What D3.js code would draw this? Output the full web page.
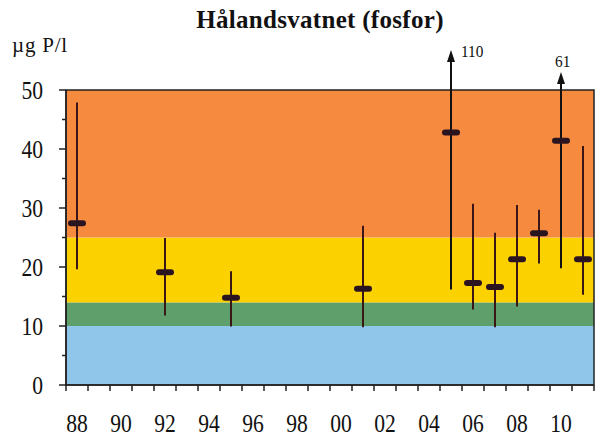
<!DOCTYPE html>
<html>
<head>
<meta charset="utf-8">
<script src="https://cdn.jsdelivr.net/npm/d3@7/dist/d3.min.js"></script>
<style>
  html, body { margin: 0; padding: 0; background: #fff; }
  svg { display: block; }
  text { font-family: "Liberation Serif", "Times New Roman", serif; fill: #111; }
</style>
</head>
<body>
<svg id="chart" width="596" height="437"></svg>
<script>
// Phosphorus (µg P/l) in Hålandsvatnet: mean with min–max range per sampled year
const years = d3.range(1988, 2012);
const sampleYears = [1988, 1992, 1995, 2001, 2005, 2006, 2007, 2008, 2009, 2010, 2011];
const meanValues  = [27.4, 19.1, 14.8, 16.3, 42.8, 17.3, 16.6, 21.3, 25.7, 41.4, 21.3];
const minValues   = [19.6, 11.8, 9.9,  9.8,  16.2, 12.8, 9.8,  13.3, 20.6, 19.8, 15.3];
const maxValues   = [47.9, 24.9, 19.3, 27.0, 110,  30.7, 25.8, 30.5, 29.7, 61,   40.5];

// Condition classes drawn as background bands
const classNames  = ["svært god", "god", "mindre god", "dårlig"];
const classLimits = [[0, 10], [10, 14], [14, 25], [25, 50]];
const classColors = ["#8fc6ea", "#5f9f6c", "#fcd100", "#f68b40"];

const yTicks = [0, 10, 20, 30, 40, 50];
const yMinorTicks = [5, 15, 25, 35, 45];
const xLabelYears = d3.range(1988, 2012, 2);

const svg = d3.select("#chart");
const plotLeft = 66, plotRight = 594, plotTop = 90, plotBottom = 385;
const squeeze = 0.83; // narrow numerals

const x = d3.scaleBand().domain(years).range([plotLeft, plotRight]).padding(0);
const y = d3.scaleLinear().domain([0, 50]).range([plotBottom, plotTop]);

// background classes
svg.append("g").selectAll("rect")
  .data(classLimits)
  .join("rect")
  .attr("x", plotLeft)
  .attr("width", plotRight - plotLeft)
  .attr("y", d => y(d[1]))
  .attr("height", d => y(d[0]) - y(d[1]))
  .attr("fill", (d, i) => classColors[i]);

// frame
svg.append("rect")
  .attr("x", plotLeft).attr("y", plotTop)
  .attr("width", plotRight - plotLeft).attr("height", plotBottom - plotTop)
  .attr("fill", "none").attr("stroke", "#222").attr("stroke-width", 1.5);

// y axis
const yAxis = svg.append("g").attr("transform", `translate(${plotLeft},0)`);
yAxis.append("line").attr("x1", 0).attr("x2", 0).attr("y1", y(50)).attr("y2", y(0))
  .attr("stroke", "#222").attr("stroke-width", 1.5);
yAxis.selectAll(".maj").data(yTicks).join("line")
  .attr("x1", -7).attr("x2", 0).attr("y1", d => y(d)).attr("y2", d => y(d))
  .attr("stroke", "#222").attr("stroke-width", 1.5);
yAxis.selectAll(".min").data(yMinorTicks).join("line")
  .attr("x1", -4).attr("x2", 0).attr("y1", d => y(d)).attr("y2", d => y(d))
  .attr("stroke", "#222").attr("stroke-width", 1.5);
yAxis.selectAll("text").data(yTicks).join("text")
  .attr("transform", d => `translate(-23,${y(d) + 9}) scale(${squeeze},1)`)
  .attr("text-anchor", "end").attr("font-size", 26)
  .text(d => d);

// x axis
const xAxis = svg.append("g");
xAxis.append("line").attr("x1", plotLeft).attr("x2", plotRight).attr("y1", plotBottom).attr("y2", plotBottom)
  .attr("stroke", "#222").attr("stroke-width", 1.5);
const boundaries = years.map(d => x(d)).concat([x(years[years.length - 1]) + x.bandwidth()]);
xAxis.selectAll(".tick").data(boundaries).join("line")
  .attr("x1", d => d).attr("x2", d => d).attr("y1", plotBottom).attr("y2", plotBottom + 6)
  .attr("stroke", "#222").attr("stroke-width", 1.5);
xAxis.selectAll("text").data(xLabelYears).join("text")
  .attr("transform", d => `translate(${x(d) + x.bandwidth() / 2},432) scale(${squeeze},1)`)
  .attr("text-anchor", "middle").attr("font-size", 26)
  .text(d => String(d % 100).padStart(2, "0"));

// range lines and mean marks
const data = sampleYears.map((yr, i) => ({ yr, mean: meanValues[i], lo: minValues[i], hi: maxValues[i] }));
const cx = d => x(d.yr) + x.bandwidth() / 2;
const arrowTip = { 2005: 50, 2010: 72 };
const lineTop = d => d.hi > 50 ? arrowTip[d.yr] + 8 : y(d.hi);

const marks = svg.append("g");
marks.selectAll("line.range").data(data).join("line")
  .attr("class", "range")
  .attr("x1", cx).attr("x2", cx)
  .attr("y1", d => y(d.lo))
  .attr("y2", lineTop)
  .attr("stroke", d => d.hi > 50 ? "#111" : "#3a1616")
  .attr("stroke-width", 2);

// arrowheads for maxima beyond the scale
const over = data.filter(d => d.hi > 50);
marks.selectAll("path.arrow").data(over).join("path")
  .attr("class", "arrow")
  .attr("d", d => {
    const t = arrowTip[d.yr], c = cx(d);
    return `M${c},${t} L${c + 4},${t + 12} L${c - 4},${t + 12} Z`;
  })
  .attr("fill", "#111");

marks.selectAll("rect.mean").data(data).join("rect")
  .attr("class", "mean")
  .attr("x", d => cx(d) - 9).attr("width", 18)
  .attr("y", d => y(d.mean) - 3).attr("height", 6)
  .attr("rx", 3)
  .attr("fill", "#2a1420");

// value labels for maxima beyond the scale
const overLabelPos = { 2005: [461, 57], 2010: [555, 67] };
svg.selectAll("text.over").data(over).join("text")
  .attr("class", "over")
  .attr("transform", d => `translate(${overLabelPos[d.yr][0]},${overLabelPos[d.yr][1]}) scale(0.9,1)`)
  .attr("font-size", 17)
  .text(d => d.hi);

// title and unit
svg.append("text").attr("x", 320).attr("y", 28).attr("text-anchor", "middle")
  .attr("font-size", 25).attr("font-weight", "bold").attr("letter-spacing", 0.3)
  .text("Hålandsvatnet (fosfor)");
svg.append("text").attr("x", 12).attr("y", 52).attr("font-size", 21).attr("letter-spacing", 0.8)
  .text("µg P/l");
</script>
</body>
</html>
